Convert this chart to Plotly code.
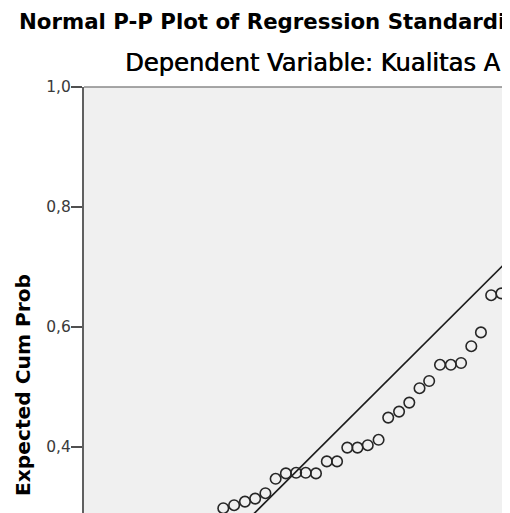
import plotly.graph_objects as go

# Observed cumulative probability (x) and expected cumulative probability (y)
obs_cum_prob = [0.238, 0.256, 0.274, 0.291, 0.308, 0.325, 0.342, 0.359, 0.375, 0.392,
                0.410, 0.427, 0.444, 0.461, 0.478, 0.496, 0.512, 0.530, 0.547, 0.564,
                0.580, 0.598, 0.616, 0.633, 0.650, 0.666, 0.683, 0.700]
exp_cum_prob = [0.298, 0.303, 0.309, 0.314, 0.323, 0.347, 0.356, 0.357, 0.357, 0.356,
                0.376, 0.376, 0.399, 0.399, 0.403, 0.412, 0.449, 0.459, 0.474, 0.498,
                0.510, 0.537, 0.537, 0.540, 0.568, 0.591, 0.653, 0.656]

ref_line = [0.0, 1.0]
y_tick_vals = [0.4, 0.6, 0.8, 1.0]
y_tick_text = ["0,4", "0,6", "0,8", "1,0"]

title_text = "Normal P-P Plot of Regression Standardi"
subtitle_text = "Dependent Variable: Kualitas A"
y_title = "Expected Cum Prob"

# page body has an 8px default margin; compensate so the plot sits where intended
BODY = 8
PAGE_W, PAGE_H = 510, 513
W, H = PAGE_W - BODY, PAGE_H - BODY
ML, MT = 84 - BODY, 87 - BODY
PW, PH = W - ML, H - MT


def px(page_x):
    return (page_x - BODY - ML) / PW


def py(page_y):
    return (H - (page_y - BODY)) / PH


fig = go.Figure()
fig.add_trace(go.Scatter(
    x=ref_line, y=ref_line, mode="lines",
    line=dict(color="#1c1c1c", width=1.7),
    hoverinfo="skip", showlegend=False,
))
fig.add_trace(go.Scatter(
    x=obs_cum_prob, y=exp_cum_prob, mode="markers",
    marker=dict(symbol="circle-open", size=10.5, color="#262626",
                line=dict(width=1.6)),
    showlegend=False,
))

fig.update_layout(
    width=W, height=H,
    margin=dict(l=ML, r=0, t=MT, b=0, pad=0),
    paper_bgcolor="white",
    plot_bgcolor="#F0F0F0",
    xaxis=dict(range=[(84 - 80) / 602, (PAGE_W - 80) / 602], showgrid=False,
               zeroline=False, showline=False, showticklabels=False,
               ticks="", automargin=False),
    yaxis=dict(range=[1.0 - PH / 600, 1.0], showgrid=False, zeroline=False,
               showline=True, linecolor="#606060", linewidth=2,
               ticks="outside", ticklen=11, tickwidth=1.5, tickcolor="#505050",
               ticklabelstandoff=-3,
               tickvals=y_tick_vals, ticktext=y_tick_text,
               tickfont=dict(family="DejaVu Sans", size=15.5, color="#3a3a3a"),
               automargin=False),
    shapes=[dict(type="line", xref="paper", yref="paper", x0=0, x1=1, y0=1, y1=1,
                 line=dict(color="#8a8a8a", width=1.5))],
    annotations=[
        dict(text=title_text, xref="paper", yref="paper", x=px(17), y=py(21),
             xanchor="left", yanchor="middle", showarrow=False,
             font=dict(family="DejaVu Sans", size=21.3, color="#000000", weight="bold")),
        dict(text=subtitle_text, xref="paper", yref="paper", x=px(123), y=py(63),
             xanchor="left", yanchor="middle", showarrow=False,
             font=dict(family="DejaVu Sans", size=24.2, color="#000000",
                       shadow="0.6px 0px 0px #000000")),
        dict(text=y_title, xref="paper", yref="paper", x=px(23), y=py(385),
             xanchor="center", yanchor="middle", showarrow=False, textangle=-90,
             font=dict(family="DejaVu Sans", size=20.2, color="#000000", weight="bold")),
    ],
)

fig.write_html("out.html", config={"displayModeBar": False})
